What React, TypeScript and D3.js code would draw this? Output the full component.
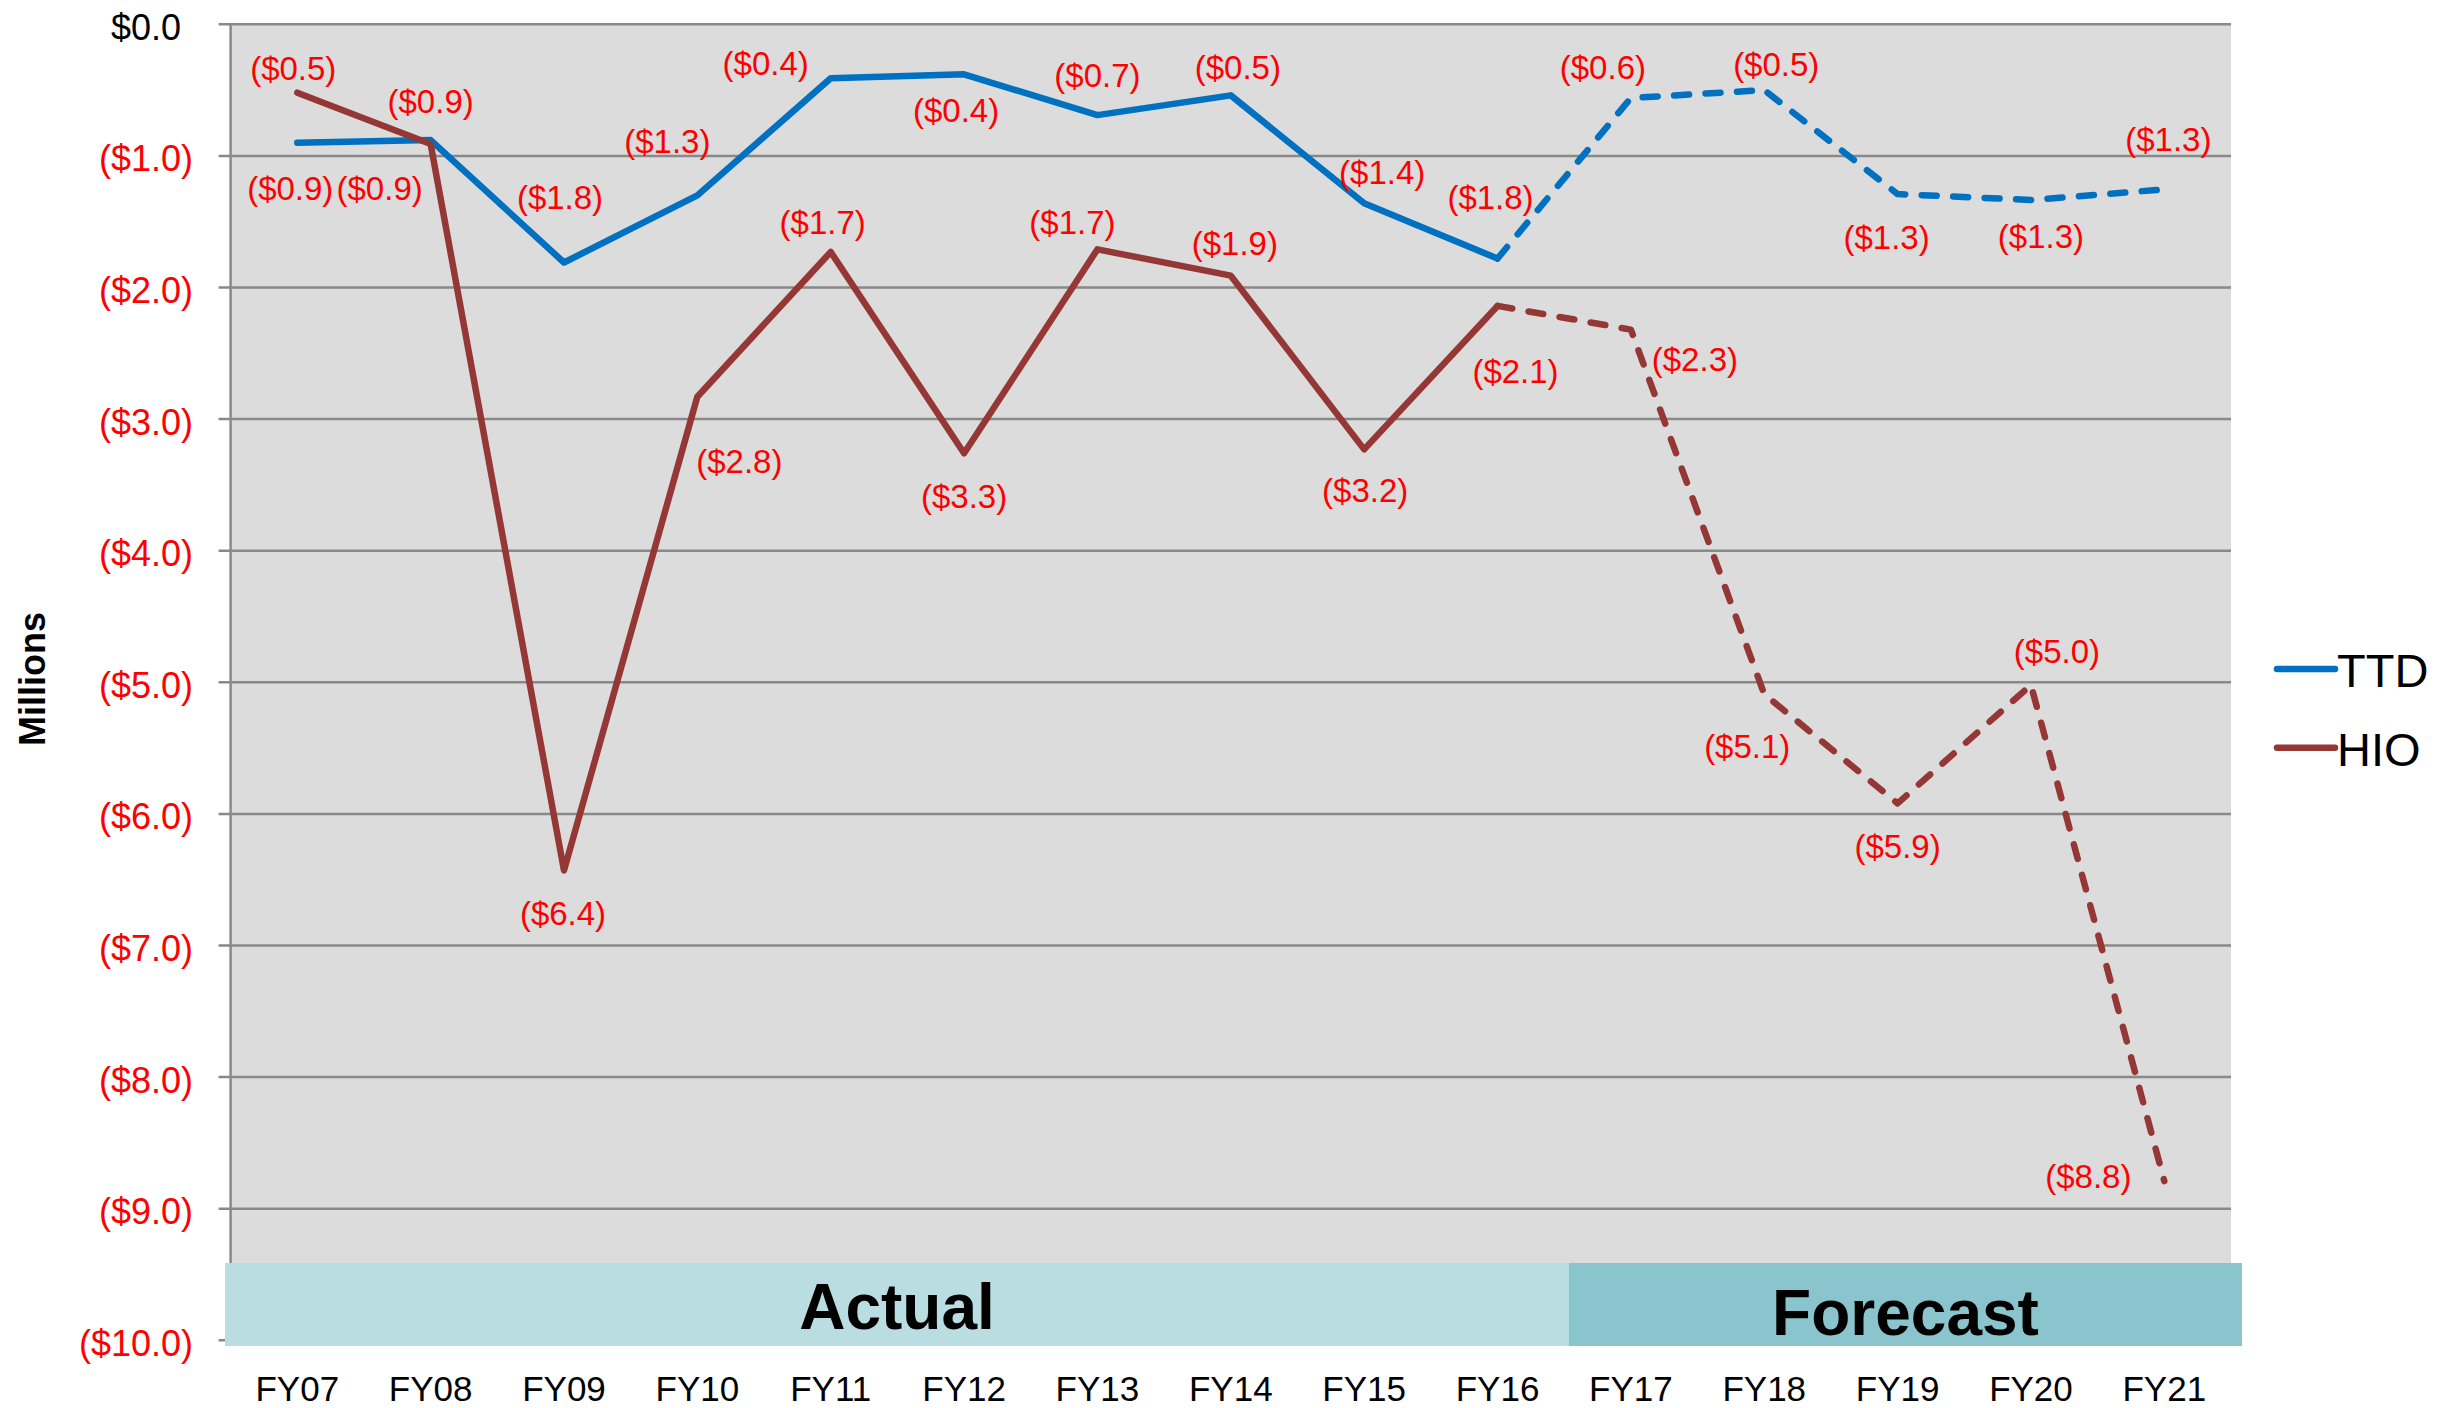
import * as d3 from 'd3';

const categories = ['FY07', 'FY08', 'FY09', 'FY10', 'FY11', 'FY12', 'FY13', 'FY14', 'FY15', 'FY16', 'FY17', 'FY18', 'FY19', 'FY20', 'FY21'];
const ttdValues = [-0.9, -0.88, -1.81, -1.3, -0.41, -0.38, -0.69, -0.54, -1.36, -1.78, -0.56, -0.5, -1.29, -1.335, -1.254];
const hioValues = [-0.52, -0.91, -6.43, -2.83, -1.73, -3.26, -1.71, -1.91, -3.23, -2.14, -2.32, -5.09, -5.92, -5.02, -8.79];
const yTicks = [0, -1, -2, -3, -4, -5, -6, -7, -8, -9, -10];
const lastActualIndex = 9;

// label placement relative to each point (baseline, px)
const ttdLabelOffsets: [number, number][] = [
    [-7, 57], [-51, 60], [-4, -53], [-30, -42], [-65, -3], [-8, 48], [0, -28], [7, -16],
    [18, -19], [-7, -50], [-28, -19], [12, -14], [-11, 55], [10, 48], [4, -38],
];
const hioLabelOffsets: [number, number][] = [
    [-4, -13], [0, -31], [-1, 55], [42, 76], [-8, -18], [0, 55], [-25, -15], [4, -21],
    [1, 53], [18, 77], [64, 41], [-17, 64], [0, 55], [26, -22], [-76, 7],
];

const WIDTH = 2463;
const HEIGHT = 1408;
const plot = { left: 230.6, right: 2231, top: 24.3, bottom: 1340.3 };
const FONT = '"Liberation Sans", Arial, Helvetica, sans-serif';
const TTD_COLOR = '#0070c0';
const HIO_COLOR = '#953735';
const GRID_COLOR = '#898989';
const LABEL_RED = '#ff0000';

const fmt = (v: number) => {
    const s = d3.format('.1f')(Math.abs(v));
    return v < 0 ? `($${s})` : `$${s}`;
};

const series = [
    { name: 'TTD', values: ttdValues, color: TTD_COLOR, offsets: ttdLabelOffsets },
    { name: 'HIO', values: hioValues, color: HIO_COLOR, offsets: hioLabelOffsets },
];

export default function App() {
    const x = d3.scaleBand<string>().domain(categories).range([plot.left, plot.right]).paddingInner(0).paddingOuter(0);
    const cx = (c: string) => (x(c) ?? 0) + x.bandwidth() / 2;
    const y = d3.scaleLinear().domain([-10, 0]).range([plot.bottom, plot.top]);

    const line = d3
        .line<{ c: string; v: number }>()
        .x((d) => cx(d.c))
        .y((d) => y(d.v));

    const bandTop = 1263;
    const bandBottom = 1346;
    const actualX0 = 225;
    const forecastX0 = 1569;
    const forecastX1 = 2242;

    return (
        <svg width={WIDTH} height={HEIGHT} style={{ position: 'absolute', left: 0, top: 0, background: '#fff' }} fontFamily={FONT}>
            <rect x={plot.left} y={plot.top} width={plot.right - plot.left} height={plot.bottom - plot.top} fill="#dcdcdc" />

            {yTicks.map((t) => (
                <line key={t} x1={plot.left - 12} x2={plot.right} y1={y(t)} y2={y(t)} stroke={GRID_COLOR} strokeWidth={2.5} />
            ))}
            <line x1={plot.left} x2={plot.left} y1={plot.top} y2={plot.bottom} stroke={GRID_COLOR} strokeWidth={2.5} />

            {yTicks.map((t) => (
                <text
                    key={`yl${t}`}
                    x={t < 0 ? 193 : 181}
                    y={y(t) + 15.5}
                    textAnchor="end"
                    fontSize={36}
                    fill={t < 0 ? LABEL_RED : '#000'}
                >
                    {fmt(t)}
                </text>
            ))}

            <text transform="translate(45, 679) rotate(-90)" textAnchor="middle" fontSize={36} fontWeight="bold" fill="#000">
                Millions
            </text>

            {series.map((s) => {
                const pts = s.values.map((v, i) => ({ c: categories[i], v }));
                return (
                    <g key={s.name}>
                        <path
                            d={line(pts.slice(0, lastActualIndex + 1)) ?? ''}
                            fill="none"
                            stroke={s.color}
                            strokeWidth={6.5}
                            strokeLinejoin="round"
                            strokeLinecap="round"
                        />
                        <path
                            d={line(pts.slice(lastActualIndex)) ?? ''}
                            fill="none"
                            stroke={s.color}
                            strokeWidth={6.5}
                            strokeLinejoin="round"
                            strokeLinecap="round"
                            strokeDasharray="15 16.5"
                        />
                    </g>
                );
            })}

            {series.map((s) =>
                s.values.map((v, i) => (
                    <text
                        key={`${s.name}-${i}`}
                        x={cx(categories[i]) + s.offsets[i][0]}
                        y={y(v) + s.offsets[i][1]}
                        textAnchor="middle"
                        fontSize={33}
                        fill={LABEL_RED}
                    >
                        {fmt(v)}
                    </text>
                ))
            )}

            <rect x={actualX0} y={bandTop} width={forecastX0 - actualX0} height={bandBottom - bandTop} fill="#badde1" />
            <rect x={forecastX0} y={bandTop} width={forecastX1 - forecastX0} height={bandBottom - bandTop} fill="#8ac5ce" />
            <text x={(actualX0 + forecastX0) / 2} y={1329} textAnchor="middle" fontSize={64} fontWeight="bold" fill="#000">
                Actual
            </text>
            <text x={(forecastX0 + forecastX1) / 2} y={1335} textAnchor="middle" fontSize={64} fontWeight="bold" fill="#000">
                Forecast
            </text>

            {categories.map((c) => (
                <text key={c} x={cx(c)} y={1401} textAnchor="middle" fontSize={35} fill="#000">
                    {c}
                </text>
            ))}

            {series.map((s, i) => (
                <g key={`lg${s.name}`} transform={`translate(0, ${669 + i * 78.7})`}>
                    <line x1={2277} x2={2335} y1={0} y2={0} stroke={s.color} strokeWidth={6.5} strokeLinecap="round" />
                    <text x={2337} y={18} fontSize={47} fill="#000">
                        {s.name}
                    </text>
                </g>
            ))}
        </svg>
    );
}
